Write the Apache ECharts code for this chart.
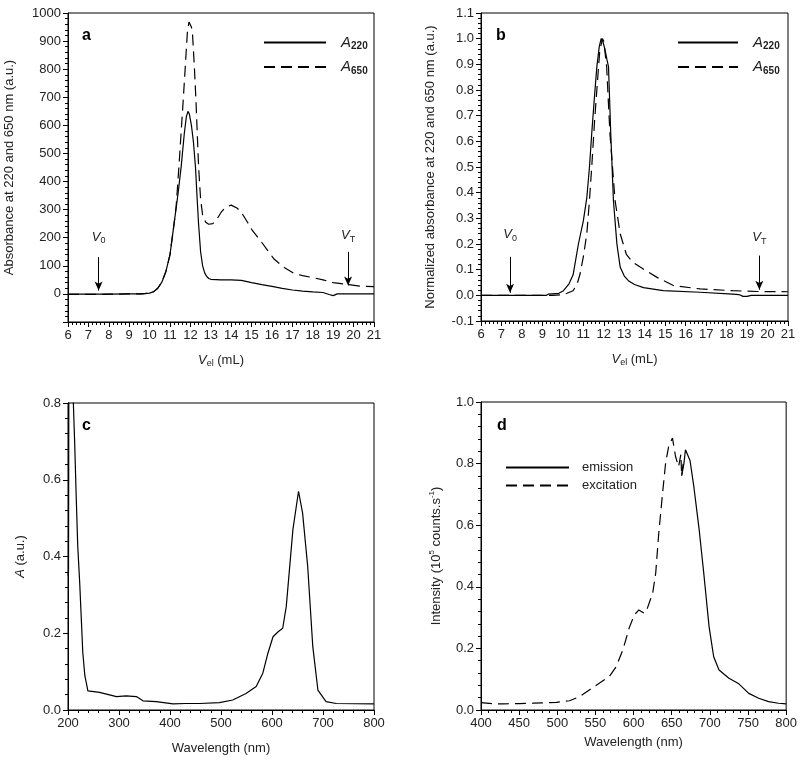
<!DOCTYPE html>
<html><head><meta charset="utf-8">
<script src="https://cdn.jsdelivr.net/npm/echarts@6/dist/echarts.min.js"></script>
<style>html,body{margin:0;padding:0;background:#fff}#c{width:800px;height:759px}</style>
</head><body><div id="c"></div>
<script>
// Panel a: elution profiles (absorbance)
const aVel220 = [6,7,8,9,9.6,10,10.2,10.4,10.6,10.8,11.0,11.2,11.4,11.55,11.7,11.8,11.88,11.95,12.05,12.15,12.25,12.33,12.4,12.5,12.6,12.7,12.8,12.9,13.0,13.5,14.0,14.5,15.0,15.5,16.0,16.5,17.0,17.5,18.0,18.5,18.8,19.0,19.2,20,21];
const aA220 = [-1,-1,-1,0,0,3,8,20,42,80,140,250,360,455,570,630,650,640,600,540,450,340,250,150,100,75,62,55,52,50,50,48,40,33,27,20,14,10,7,5,-2,-6,0,0,0];
const aVel650 = [6,7,8,9,9.6,10,10.2,10.4,10.6,10.8,11.0,11.2,11.3,11.44,11.55,11.65,11.75,11.85,11.93,12.0,12.05,12.1,12.2,12.27,12.4,12.5,12.6,12.75,12.9,13.1,13.3,13.5,13.7,14.0,14.3,14.5,14.8,15.0,15.5,16.1,16.6,17.1,17.5,18.0,18.5,19.0,19.7,20.3,21];
const aA650 = [-2,-2,-1,0,0,3,8,20,42,80,140,250,310,455,580,692,810,930,968,965,950,930,800,692,455,337,280,255,248,250,266,290,307,316,305,290,255,230,183,124,94,72,65,58,50,40,34,28,26];
// Panel b: normalized elution profiles
const bVel220 = [6,9.2,9.3,9.8,10.03,10.3,10.5,10.76,11.0,11.17,11.3,11.41,11.55,11.66,11.78,11.87,11.95,12.05,12.15,12.23,12.34,12.47,12.64,12.8,13.0,13.2,13.5,13.94,14.9,16.7,18.3,18.6,18.8,19.0,19.2,21];
const bN220 = [0,0,0.005,0.008,0.018,0.045,0.08,0.2,0.29,0.38,0.5,0.63,0.78,0.89,0.97,1.0,0.99,0.96,0.92,0.89,0.63,0.37,0.2,0.11,0.075,0.057,0.042,0.03,0.018,0.012,0.005,0.003,-0.004,-0.004,0,0];
const bVel650 = [6,9.5,10.0,10.2,10.5,10.7,10.84,11.0,11.17,11.3,11.41,11.55,11.66,11.8,11.93,12.0,12.14,12.3,12.55,12.8,13.1,13.4,13.78,14.6,15.4,16.7,18.3,19.5,21];
const bN650 = [0,0,0.003,0.008,0.018,0.045,0.083,0.15,0.24,0.37,0.5,0.68,0.8,0.95,1.0,0.99,0.89,0.63,0.37,0.24,0.16,0.13,0.11,0.07,0.038,0.025,0.018,0.015,0.014];
// Panel c: absorption spectrum
const cWl = [200,201,202.5,207,210,213,216,219,223,226,229,233,236,239,242,262,295,314,334,347,373,406,430,458,497,523,549,569,582,592,602,612,621,628,641,652,660,670,680,690,706,726,800];
const cA = [0.35,0.36,1.5,1.2,0.82,0.7,0.56,0.43,0.33,0.24,0.15,0.09,0.07,0.05,0.047,0.046,0.035,0.037,0.035,0.024,0.022,0.016,0.017,0.017,0.019,0.026,0.043,0.061,0.096,0.148,0.191,0.204,0.213,0.27,0.47,0.57,0.513,0.374,0.165,0.052,0.022,0.017,0.016];
// Panel d: fluorescence spectra
const dWlExc = [400,416,430,450,468,499,516,529,542,555,568,577,586,594,601,607,614,618,625,629,633,638,642,646,651,655,659,662,663,665];
const dExc = [0.024,0.02,0.02,0.021,0.022,0.025,0.03,0.043,0.065,0.087,0.108,0.14,0.195,0.265,0.309,0.325,0.314,0.33,0.379,0.444,0.574,0.704,0.802,0.856,0.883,0.823,0.79,0.83,0.76,0.80];
const dWlEm = [663,666,668,670,674,679,686,692,699,705,712,725,738,751,764,777,790,800];
const dEm = [0.76,0.8,0.845,0.85,0.81,0.725,0.585,0.444,0.27,0.173,0.13,0.103,0.085,0.054,0.038,0.027,0.022,0.02];

const pairs = (xs, ys) => xs.map((x, i) => [x, ys[i]]);
const FONT = 'Liberation Sans';
const TXT = '#222';
const subRich = {
  i: {fontStyle: 'italic', fontSize: 13, lineHeight: 16, fontFamily: FONT, color: TXT},
  s: {fontSize: 9, lineHeight: 9, verticalAlign: 'bottom', fontFamily: FONT, color: TXT},
  n: {fontSize: 13, lineHeight: 16, fontFamily: FONT, color: TXT},
  p: {fontSize: 8, lineHeight: 8, verticalAlign: 'top', fontFamily: FONT, color: TXT}
};
const DASH = [11, 6];

function xAx(gi, min, max, interval, name, nameGap, fmt) {
  return {
    gridIndex: gi, type: 'value', min, max, interval,
    name, nameLocation: 'middle', nameGap,
    nameTextStyle: {fontFamily: FONT, fontSize: 13, color: TXT, rich: subRich},
    axisLine: {show: true, onZero: false, lineStyle: {color: '#000', width: 1}},
    axisTick: {show: true, length: 5, lineStyle: {color: '#000'}},
    minorTick: {show: true, splitNumber: 5, length: 3, lineStyle: {color: '#000'}},
    splitLine: {show: false},
    axisLabel: {fontFamily: FONT, fontSize: 13, color: TXT, margin: 7, hideOverlap: false, showMinLabel: true, showMaxLabel: true, formatter: fmt}
  };
}
function yAx(gi, min, max, interval, name, nameGap, fmt) {
  return {
    gridIndex: gi, type: 'value', min, max, interval,
    name, nameLocation: 'middle', nameGap,
    nameTextStyle: {fontFamily: FONT, fontSize: 13, color: TXT, rich: subRich},
    axisLine: {show: true, onZero: false, lineStyle: {color: '#000', width: 1}},
    axisTick: {show: true, length: 5, lineStyle: {color: '#000'}},
    minorTick: {show: true, splitNumber: 5, length: 3, lineStyle: {color: '#000'}},
    splitLine: {show: false},
    axisLabel: {fontFamily: FONT, fontSize: 13, color: TXT, margin: 7, hideOverlap: false, showMinLabel: true, showMaxLabel: true, formatter: fmt}
  };
}
const gridBase = {show: true, borderColor: '#000', borderWidth: 1, backgroundColor: 'transparent', containLabel: false};

function arrow(x, y1, y2, sub, dist) {
  return {
    silent: true, symbol: ['none', 'arrow'], symbolSize: [6, 9],
    lineStyle: {type: 'solid', color: '#000', width: 1},
    label: {show: true, position: 'start', distance: dist, formatter: '{i|V}{s|' + sub + '}', rich: subRich},
    data: [[{coord: [x, y1]}, {coord: [x, y2]}]]
  };
}
function lineSeries(name, xi, yi, data, dashed, markLine) {
  const s = {
    name, type: 'line', xAxisIndex: xi, yAxisIndex: yi, data,
    symbol: 'none', smooth: false, animation: false,
    lineStyle: {color: '#000', width: 1.2, type: dashed ? DASH : 'solid'},
    itemStyle: {color: '#000'}
  };
  if (markLine) s.markLine = markLine;
  return s;
}
const legendRich = {
  i: {fontStyle: 'italic', fontSize: 15, lineHeight: 18, fontFamily: FONT, color: TXT, padding: [0, 0, 0, 10]},
  s: {fontSize: 10, lineHeight: 10, verticalAlign: 'bottom', fontWeight: 'bold', fontFamily: FONT, color: TXT}
};
const fmtSub = n => n === 'A220' ? '{i|A}{s|220}' : '{i|A}{s|650}';
const hideSym = {opacity: 0, borderWidth: 0};

const option = {
  backgroundColor: '#fff',
  animation: false,
  grid: [
    Object.assign({left: 68, top: 13, width: 306, height: 309}, gridBase),
    Object.assign({left: 481, top: 13, width: 307, height: 308}, gridBase),
    Object.assign({left: 68, top: 403, width: 306, height: 307}, gridBase),
    Object.assign({left: 481, top: 402, width: 307, height: 308}, gridBase)
  ],
  xAxis: [
    xAx(0, 6, 21, 1, '{i|V}{s|el}{n| (mL)}', 30),
    xAx(1, 6, 21, 1, '{i|V}{s|el}{n| (mL)}', 30),
    xAx(2, 200, 800, 100, 'Wavelength (nm)', 32),
    xAx(3, 400, 800, 50, 'Wavelength (nm)', 26)
  ],
  yAxis: [
    yAx(0, -100, 1000, 100, 'Absorbance at 220 and 650 nm (a.u.)', 52, v => v < 0 ? '' : String(v)),
    yAx(1, -0.1, 1.1, 0.1, 'Normalized absorbance at 220 and 650 nm (a.u.)', 44, v => v.toFixed(1)),
    yAx(2, 0, 0.8, 0.2, '{i|A}{n| (a.u.)}', 40, v => v.toFixed(1)),
    yAx(3, 0, 1.0, 0.2, '{n|Intensity (10}{p|5}{n| counts.s}{p|-1}{n|)}', 37, v => v.toFixed(1))
  ],
  legend: [
    {data: ['A220', 'A650'], left: 258, top: 30, orient: 'vertical', itemWidth: 62, itemHeight: 14, itemGap: 8,
     itemStyle: hideSym, formatter: fmtSub, textStyle: {rich: legendRich}},
    {data: ['A220', 'A650'], left: 672, top: 30, orient: 'vertical', itemWidth: 60, itemHeight: 14, itemGap: 8,
     itemStyle: hideSym, formatter: fmtSub, textStyle: {rich: legendRich}},
    {data: ['emission', 'excitation'], left: 500, top: 456, orient: 'vertical', itemWidth: 63, itemHeight: 14, itemGap: 5,
     itemStyle: hideSym, textStyle: {fontFamily: FONT, fontSize: 13, color: TXT, padding: [0, 0, 0, 8]}}
  ],
  graphic: [
    {type: 'text', left: 82, top: 28, style: {text: 'a', font: 'bold 16px ' + FONT, fill: '#000'}},
    {type: 'text', left: 496, top: 28, style: {text: 'b', font: 'bold 16px ' + FONT, fill: '#000'}},
    {type: 'text', left: 82, top: 418, style: {text: 'c', font: 'bold 16px ' + FONT, fill: '#000'}},
    {type: 'text', left: 497, top: 418, style: {text: 'd', font: 'bold 16px ' + FONT, fill: '#000'}}
  ],
  series: [
    lineSeries('A220', 0, 0, pairs(aVel220, aA220), false, arrow(7.5, 131, 12, '0', 12)),
    lineSeries('A650', 0, 0, pairs(aVel650, aA650), true, arrow(19.73, 150, 30, 'T', 8)),
    lineSeries('A220', 1, 1, pairs(bVel220, bN220), false, arrow(7.42, 0.15, 0.01, '0', 14)),
    lineSeries('A650', 1, 1, pairs(bVel650, bN650), true, arrow(19.6, 0.155, 0.022, 'T', 10)),
    lineSeries('absorbance', 2, 2, pairs(cWl, cA), false),
    lineSeries('excitation', 3, 3, pairs(dWlExc, dExc), true),
    lineSeries('emission', 3, 3, pairs(dWlEm, dEm), false)
  ]
};
const chart = echarts.init(document.getElementById('c'), null, {renderer: 'canvas'});
chart.setOption(option);
</script>
</body></html>
